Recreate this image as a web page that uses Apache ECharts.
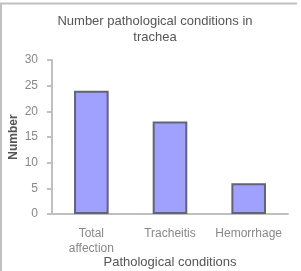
<!DOCTYPE html>
<html>
<head>
<meta charset="utf-8">
<script src="https://cdn.jsdelivr.net/npm/echarts@6/dist/echarts.min.js"></script>
<style>
  html, body { margin: 0; padding: 0; background: #fff; }
  #chart { width: 301px; height: 271px; }
</style>
</head>
<body>
<div id="chart"></div>
<script>
// data
var categories = ['Total\naffection', 'Tracheitis', 'Hemorrhage'];
var counts = [24, 18, 6];
var yTicks = [0, 5, 10, 15, 20, 25, 30];

var myChart = echarts.init(document.getElementById('chart'));
var option = {
  animation: false,
  title: {
    text: 'Number pathological conditions in\ntrachea',
    left: 150,
    textAlign: 'center',
    top: 8,
    textStyle: { fontFamily: 'Liberation Sans', fontSize: 13, fontWeight: 'normal', color: '#555', lineHeight: 16 }
  },
  graphic: [
    { type: 'line', shape: { x1: 0, y1: 3.5, x2: 297, y2: 3.5 }, style: { stroke: '#c0c0c0', lineWidth: 2 } },
    { type: 'line', shape: { x1: 1, y1: 3, x2: 1, y2: 271 }, style: { stroke: '#c0c0c0', lineWidth: 2 } }
  ],
  grid: { left: 52, right: 13, top: 60, bottom: 57, outerBoundsMode: 'none' },
  xAxis: {
    type: 'category',
    data: categories,
    name: 'Pathological conditions',
    nameLocation: 'middle',
    nameGap: 42,
    nameMoveOverlap: false,
    nameTextStyle: { fontFamily: 'Liberation Sans', fontSize: 13, color: '#555' },
    axisLine: { lineStyle: { color: '#c0c0c0', width: 2 } },
    axisTick: { length: 4, lineStyle: { color: '#c0c0c0', width: 2 } },
    axisLabel: { fontFamily: 'Liberation Sans', fontSize: 12, color: '#888', margin: 12, lineHeight: 15, interval: 0 }
  },
  yAxis: {
    type: 'value',
    min: yTicks[0],
    max: yTicks[yTicks.length - 1],
    interval: 5,
    name: 'Number',
    nameLocation: 'middle',
    nameGap: 32,
    nameMoveOverlap: false,
    nameTextStyle: { fontFamily: 'Liberation Sans', fontSize: 12, fontWeight: 'bold', color: '#555' },
    axisLine: { show: true, lineStyle: { color: '#c0c0c0', width: 2 } },
    axisTick: { show: true, length: 5, lineStyle: { color: '#c0c0c0', width: 2 } },
    splitLine: { show: false },
    axisLabel: { fontFamily: 'Liberation Sans', fontSize: 12, color: '#888', margin: 14 }
  },
  series: [{
    type: 'bar',
    data: counts,
    barWidth: '44%',
    itemStyle: { color: '#a0a0ff', borderColor: '#62627a', borderWidth: 2 }
  }]
};
myChart.setOption(option);
</script>
</body>
</html>
